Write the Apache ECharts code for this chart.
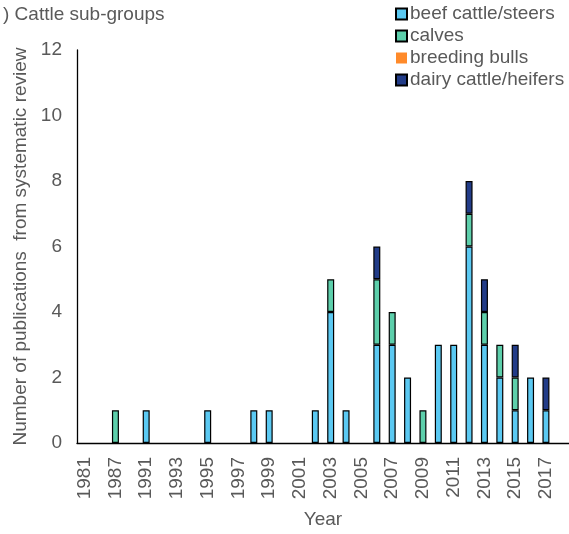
<!DOCTYPE html>
<html>
<head>
<meta charset="utf-8">
<script src="https://cdn.jsdelivr.net/npm/echarts@6/dist/echarts.min.js"></script>
<style>
html,body{margin:0;padding:0;background:#fff;}
#chart{width:569px;height:534px;}
</style>
</head>
<body>
<div id="chart"></div>
<script>
var years = ['1981','1985','1987','1989','1991','1992','1993','1994','1995','1996','1997','1998','1999','2000','2001','2002','2003','2004','2005','2006','2007','2008','2009','2010','2011','2012','2013','2014','2015','2016','2017','2018'];
var beefCattle = [0,0,0,0,1,0,0,0,1,0,0,1,1,0,0,1,4,1,0,3,3,2,0,3,3,6,3,2,1,2,1,0];
var calves     = [0,0,1,0,0,0,0,0,0,0,0,0,0,0,0,0,1,0,0,2,1,0,1,0,0,1,1,1,1,0,0,0];
var breedingBulls = [0,0,0,0,0,0,0,0,0,0,0,0,0,0,0,0,0,0,0,0,0,0,0,0,0,0,0,0,0,0,0,0];
var dairyCattle = [0,0,0,0,0,0,0,0,0,0,0,0,0,0,0,0,0,0,0,1,0,0,0,0,0,1,1,0,1,0,1,0];
var yTicks = {min:0, max:12, interval:2};

function nz(arr){ return arr.map(function(v){ return v === 0 ? '-' : v; }); }
var FONT = '"Liberation Sans", Arial, sans-serif';
var GREY = '#595959';

function bar(name, data, color, bw){
  return {
    name: name, type: 'bar', stack: 'all', data: nz(data), barWidth: 7,
    itemStyle: {color: color, borderColor: '#000', borderWidth: bw},
    emphasis: {disabled: true}
  };
}

var chart = echarts.init(document.getElementById('chart'), null, {renderer:'canvas'});
chart.setOption({
  animation: false,
  backgroundColor: '#fff',
  title: {
    text: ') Cattle sub-groups', left: -2, top: 0,
    textStyle: {fontFamily: FONT, fontSize: 19, fontWeight: 'normal', color: GREY}
  },
  legend: {
    orient: 'vertical', left: 390, top: -2,
    itemWidth: 11, itemHeight: 11, itemGap: 0,
    icon: 'rect',
    textStyle: {fontFamily: FONT, fontSize: 19, color: GREY, lineHeight: 22, padding: [0,0,0,-2]},
    data: ['beef cattle/steers','calves','breeding bulls','dairy cattle/heifers']
  },
  grid: {left: 77, right: 0, top: 50, bottom: 89, containLabel: false},
  xAxis: {
    type: 'category', data: years,
    name: 'Year', nameLocation: 'middle', nameGap: 67,
    nameTextStyle: {fontFamily: FONT, fontSize: 19, color: GREY},
    axisLine: {lineStyle: {color: '#000', width: 1.3}},
    axisTick: {show: false},
    axisLabel: {interval: 1, rotate: 90, margin: 14, fontFamily: FONT, fontSize: 19, color: GREY}
  },
  yAxis: {
    type: 'value', min: yTicks.min, max: yTicks.max, interval: yTicks.interval,
    name: 'Number of publications  from systematic review', nameLocation: 'middle', nameGap: 43,
    nameTextStyle: {fontFamily: FONT, fontSize: 19, color: GREY},
    axisLine: {show: true, lineStyle: {color: '#000', width: 1.3}},
    axisTick: {show: false},
    splitLine: {show: false},
    axisLabel: {margin: 15, fontFamily: FONT, fontSize: 19, color: GREY}
  },
  series: [
    bar('beef cattle/steers', beefCattle, '#5BC9F2', 1.2),
    bar('calves', calves, '#5DCFAB', 1.2),
    bar('breeding bulls', breedingBulls, '#FF8A2A', 0),
    bar('dairy cattle/heifers', dairyCattle, '#223C88', 1.2)
  ]
});
</script>
</body>
</html>
